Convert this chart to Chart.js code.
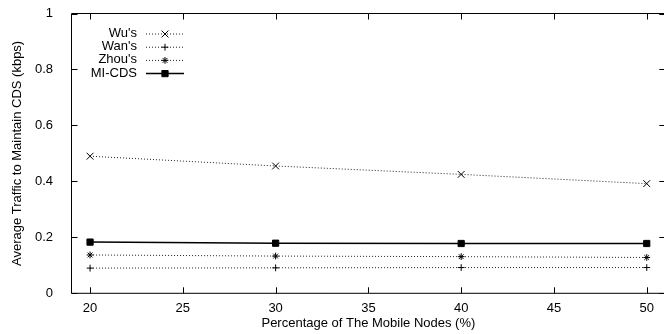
<!DOCTYPE html>
<html>
<head>
<meta charset="utf-8">
<script src="https://cdn.jsdelivr.net/npm/chart.js@4/dist/chart.umd.min.js"></script>
<style>
html,body{margin:0;padding:0;overflow:hidden;background:#fff;width:664px;height:334px;}
#wrap{position:absolute;left:0;top:0;width:673px;height:334px;}
</style>
</head>
<body>
<div id="wrap"><canvas id="c" width="673" height="334"></canvas></div>
<script>
const mobilePct = [20, 30, 40, 50];
const wuTraffic = [0.490, 0.455, 0.425, 0.392];
const wanTraffic = [0.090, 0.091, 0.092, 0.092];
const zhouTraffic = [0.137, 0.133, 0.131, 0.128];
const micdsTraffic = [0.183, 0.179, 0.178, 0.178];
const xTickValues = [20, 25, 30, 35, 40, 45, 50];
const yTickValues = [0, 0.2, 0.4, 0.6, 0.8, 1];
const yTickLabels = ['0', '0.2', '0.4', '0.6', '0.8', '1'];
const seriesNames = ["Wu's", "Wan's", "Zhou's", "MI-CDS"];

const FONT = "'Liberation Sans', Arial, Helvetica, sans-serif";
const FS = 13;

function pts(vals){ return mobilePct.map((x,i)=>({x:x,y:vals[i]})); }

const frameTicks = {
  id:'frameTicks',
  afterDatasetsDraw(chart){
    const {ctx, chartArea:a, scales:{x,y}} = chart;
    ctx.save();
    ctx.strokeStyle = '#000';
    ctx.lineWidth = 1;
    ctx.beginPath();
    ctx.rect(a.left, a.top, a.right-a.left, a.bottom-a.top);
    const L = 6;
    xTickValues.forEach(v=>{
      const px = Math.round(x.getPixelForValue(v))+0.5;
      ctx.moveTo(px, a.bottom); ctx.lineTo(px, a.bottom-L);
      ctx.moveTo(px, a.top); ctx.lineTo(px, a.top+L);
    });
    yTickValues.forEach(v=>{
      const py = Math.round(y.getPixelForValue(v))+0.5;
      ctx.moveTo(a.left, py); ctx.lineTo(a.left+L, py);
      ctx.moveTo(a.right, py); ctx.lineTo(a.right-L, py);
    });
    ctx.stroke();
    // legend
    ctx.font = FS + 'px ' + FONT;
    ctx.fillStyle = '#000';
    ctx.textAlign = 'right';
    ctx.textBaseline = 'middle';
    chart.data.datasets.forEach((ds,i)=>{
      const yy = 33.5 + 13.2*i;
      ctx.fillText(ds.label, 137, yy);
      ctx.save();
      ctx.strokeStyle = ds.borderColor;
      ctx.lineWidth = ds.borderWidth;
      ctx.setLineDash(ds.borderDash || []);
      ctx.beginPath();
      ctx.moveTo(146, yy+0.5); ctx.lineTo(184, yy+0.5);
      ctx.stroke();
      ctx.restore();
      ctx.save();
      ctx.strokeStyle = '#000'; ctx.fillStyle = '#000'; ctx.lineWidth = 1;
      Chart.helpers.drawPoint(ctx, {pointStyle: ds.pointStyle, radius: ds.pointRadius, borderWidth:1, rotation:0}, 165, yy+0.5);
      ctx.restore();
    });
    ctx.restore();
  }
};

const mk = (label, vals, style, radius, solid) => ({
  label, data: pts(vals),
  borderColor: solid ? '#000' : '#222', backgroundColor: '#000',
  borderWidth: solid ? 1.5 : 1,
  borderDash: solid ? [] : [1, 2],
  pointStyle: style, pointRadius: radius,
  pointBorderColor: '#000', pointBackgroundColor: '#000', pointBorderWidth: 1,
  tension: 0, fill: false
});

function zeroPad(s){ s.paddingTop = 0; s.paddingBottom = 0; s.paddingLeft = 0; s.paddingRight = 0; }

new Chart(document.getElementById('c'), {
  type: 'line',
  data: {
    datasets: [
      mk(seriesNames[0], wuTraffic, 'crossRot', 4.8, false),
      mk(seriesNames[1], wanTraffic, 'cross', 3.4, false),
      mk(seriesNames[2], zhouTraffic, 'star', 3.4, false),
      mk(seriesNames[3], micdsTraffic, 'rect', 4.4, true)
    ]
  },
  options: {
    responsive: false,
    animation: false,
    layout: { padding: { top: 13.5, right: 7.7, left: 0, bottom: 0 } },
    plugins: { legend: { display: false }, tooltip: { enabled: false } },
    scales: {
      x: {
        type: 'linear', min: 19, max: 51,
        afterBuildTicks: s => { s.ticks = xTickValues.map(v=>({value:v})); },
        afterFit: s => { s.height = 40.7; zeroPad(s); },
        grid: { display: false, drawTicks: false },
        border: { display: false },
        ticks: { color: '#000', padding: 7, font: { family: FONT, size: FS } },
        title: { display: true, text: 'Percentage of The Mobile Nodes (%)', color: '#000',
                 font: { family: FONT, size: FS }, padding: { top: 0, bottom: 3.2 } }
      },
      y: {
        min: 0, max: 1,
        afterBuildTicks: s => { s.ticks = yTickValues.map(v=>({value:v})); },
        afterFit: s => { s.width = 71.5; zeroPad(s); },
        grid: { display: false, drawTicks: false },
        border: { display: false },
        ticks: { color: '#000', padding: 18.5, font: { family: FONT, size: FS },
                 callback: (v, i) => yTickLabels[i] },
        title: { display: true, text: 'Average Traffic to Maintain CDS (kbps)', color: '#000',
                 font: { family: FONT, size: FS }, padding: { top: 9.5, bottom: 0 } }
      }
    }
  },
  plugins: [frameTicks]
});
</script>
</body>
</html>
